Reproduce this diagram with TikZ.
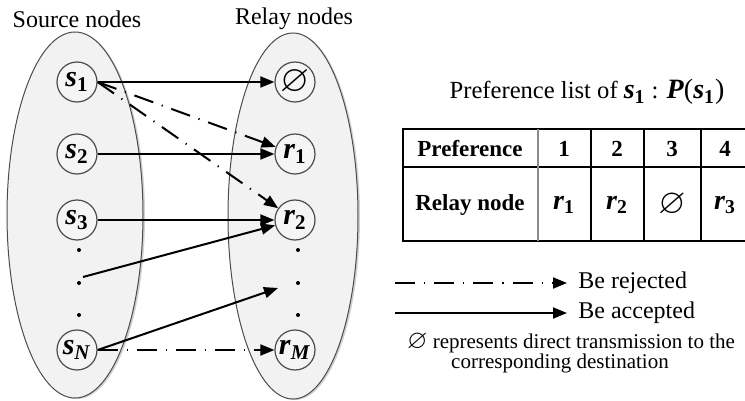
\documentclass[tikz,border=0pt]{standalone}
\usepackage{amssymb}
\usepackage{fontspec}
\setmainfont{Liberation Serif}
\usetikzlibrary{positioning,arrows.meta}

\newcommand{\nd}[2]{\textbf{\textit{#1}}\textsubscript{\textbf{#2}}}
\newcommand{\nil}{\scalebox{1.25}{$\varnothing$}}

\begin{document}
\begin{tikzpicture}[x=0.5pt,y=-0.5pt,
  every node/.style={inner sep=0pt},
  cloud/.style={draw=black!70,line width=0.5pt,fill=black!5},
  shade/.style={fill=black!18},
  member/.style={circle,draw=black!70,line width=0.6pt,fill=black!4,minimum size=20pt,
    font=\fontsize{15}{17}\selectfont},
  link/.style={line width=1pt,-{Triangle[length=7pt,width=5.5pt]}},
  reject/.style={link,dash pattern=on 10pt off 4.5pt on 0.6pt off 4.5pt},
  pt/.style={circle,fill=black,minimum size=2pt},
  cell/.style={font=\fontsize{11.5}{13}\selectfont\bfseries},
  entry/.style={font=\fontsize{14}{16}\selectfont},
  legend/.style={font=\fontsize{12}{14}\selectfont},
  note/.style={font=\fontsize{10.5}{12}\selectfont}]
\useasboundingbox (0,0) rectangle (745,401);

\fill[shade] (77,216) ellipse [x radius=68, y radius=183];
\fill[shade] (295,217) ellipse [x radius=65, y radius=183];
\draw[cloud] (75,215) ellipse [x radius=68, y radius=183];
\draw[cloud] (293,216) ellipse [x radius=65, y radius=183];

\node[legend] (srclab) at (77,19) {Source nodes};
\node[legend] (rellab) at (294,19) {Relay nodes};

\node[member] (s1) at (77,82) {\nd{s}{1}};
\node[member] (s2) at (77,154) {\nd{s}{2}};
\node[member] (s3) at (77,220) {\nd{s}{3}};
\node[member] (sN) at (77,350) {\nd{s}{\textit{N}}};
\node[member] (r0) at (295,82) {\nil};
\node[member] (r1) at (295,154) {\nd{r}{1}};
\node[member] (r2) at (295,220) {\nd{r}{2}};
\node[member] (rM) at (295,350) {\nd{r}{\textit{M}}};
\foreach \y [count=\i] in {250,283,315} {
  \node[pt] (ldot\i) at (79,\y) {};
  \node[pt] (rdot\i) at (298,\y) {};
}
\coordinate (from) at (83,277);
\coordinate (to) at (278,288);

\draw[link] (s1.east) -- (r0);
\draw[reject] (s1.east) -- (r1);
\draw[reject] (s1.east) -- (r2);
\draw[link] (s2) -- (r1);
\draw[link] (s3) -- (r2);
\draw[link] (from) -- (r2);
\draw[link] (sN.east) -- (to);
\draw[reject] (sN.east) -- (rM);

\node[legend,font=\fontsize{12.3}{14}\selectfont] (preftitle) at (587,92)
  {Preference list of {\fontsize{14}{16}\selectfont\nd{s}{1}} :
   {\fontsize{14}{16}\selectfont\textbf{\textit{P}}(\nd{s}{1})}};

\draw[line width=0.75pt] (745,129) -- (403,129) -- (403,241) -- (745,241);
\draw[line width=0.75pt] (403,167) -- (745,167);
\draw[line width=0.75pt,black!45] (538,129) -- (538,241);
\foreach \x in {591,644,701}
  \draw[line width=0.75pt] (\x,129) -- (\x,241);

\node[cell] (hpref) at (470,149) {Preference};
\node[cell] (h1) at (564,149) {1};
\node[cell] (h2) at (617,149) {2};
\node[cell] (h3) at (672,149) {3};
\node[cell] (h4) at (725,149) {4};
\node[cell] (hrel) at (470,205) {Relay node};
\node[entry] (c1) at (564,205) {\nd{r}{1}};
\node[entry] (c2) at (617,205) {\nd{r}{2}};
\node[entry] (c3) at (672,205) {\nil};
\node[entry] (c4) at (725,205) {\nd{r}{3}};

\coordinate (rj0) at (395,283);
\coordinate (rj1) at (567,283);
\coordinate (ac0) at (395,313);
\coordinate (ac1) at (567,313);
\draw[reject] (rj0) -- (rj1);
\draw[link] (ac0) -- (ac1);
\node[legend,right=5.5pt of rj1] (rjtxt) {Be rejected};
\node[legend,right=5.5pt of ac1] (actxt) {Be accepted};

\node[note] (note1) at (571,343) {\nil{} represents direct transmission to the};
\node[note] (note2) at (560,363) {corresponding destination};
\end{tikzpicture}
\end{document}
